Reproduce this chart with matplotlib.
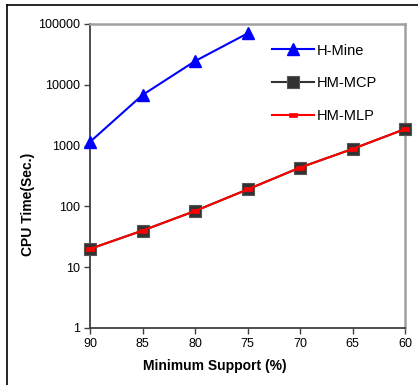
import numpy as np
import matplotlib.pyplot as plt
from matplotlib.lines import Line2D

plt.rcParams['font.family'] = ['Liberation Sans', 'DejaVu Sans']

support = ['90', '85', '80', '75', '70', '65', '60']
hmine = [1150, 6800, 24500, 70000]
hm_mcp = [20, 40, 84, 190, 435, 880, 1870]
hm_mlp = [20, 40, 84, 190, 435, 880, 1870]
yticks = [1, 10, 100, 1000, 10000, 100000]

W, H = 418, 385
fig = plt.figure(figsize=(W / 100, H / 100), dpi=100)
ax = fig.add_axes([90 / W, 57 / H, 315 / W, 304 / H])

x = np.arange(len(support))
dash = [(-1, -0.38), (1, -0.38), (1, 0.38), (-1, 0.38), (-1, -0.38)]

ax.plot(x[:len(hmine)], hmine, color='#0000ff', lw=1.5, marker='^', ms=9,
        mfc='#0000ff', mec='#0000ff', label='H-Mine', clip_on=False, zorder=3)
ax.plot(x, hm_mcp, color='#333333', lw=1.5, marker='s', ms=8.5,
        mfc='#333333', mec='#555555', mew=0.8, label='HM-MCP', clip_on=False, zorder=3)
ax.plot(x, hm_mlp, color='#ff0000', lw=1.5, marker=dash, ms=6,
        mfc='#ff0000', mec='#ff0000', mew=0.5, label='HM-MLP', clip_on=False, zorder=4)

ax.set_yscale('log')
ax.set_ylim(1, 100000)
ax.set_xlim(0, len(support) - 1)
ax.set_yticks(yticks)
ax.set_yticklabels([str(v) for v in yticks])
ax.yaxis.set_minor_locator(plt.NullLocator())
ax.set_xticks(x)
ax.set_xticklabels(support)
ax.tick_params(labelsize=9, length=4, width=1, color='#404040', pad=3)

for s in ['left', 'bottom']:
    ax.spines[s].set_color('#404040')
    ax.spines[s].set_linewidth(1.3)
for s in ['top', 'right']:
    ax.spines[s].set_color('#a0a0a0')
    ax.spines[s].set_linewidth(1.8)

leg = ax.legend(loc='upper left', bbox_to_anchor=(176 / 315, 0.955), frameon=False,
                fontsize=10.5, handlelength=2.9, handletextpad=0.2, labelspacing=1.3,
                borderaxespad=0)

fig.text(215 / W, 1 - 366 / H, 'Minimum Support (%)', ha='center', va='center',
         fontsize=10, fontweight='bold')
fig.text(28 / W, 1 - 204 / H, 'CPU Time(Sec.)', ha='center', va='center',
         rotation=90, fontsize=10, fontweight='bold')

# frame edges along top and left
fig.add_artist(Line2D([7 / W, 1], [1 - 5 / H, 1 - 5 / H], color='black', lw=1.2))
fig.add_artist(Line2D([7 / W, 7 / W], [0, 1 - 5 / H], color='black', lw=1.2))

fig.savefig('out.png', dpi=100)
